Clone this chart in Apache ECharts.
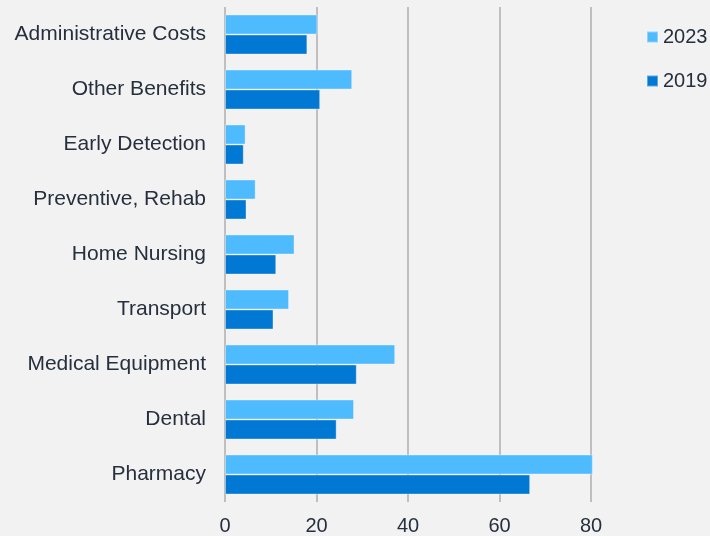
<!DOCTYPE html>
<html>
<head>
<meta charset="utf-8">
<script src="https://cdn.jsdelivr.net/npm/echarts@6/dist/echarts.min.js"></script>
<style>
  html, body { margin: 0; padding: 0; background: #f2f2f2; }
  #chart { width: 710px; height: 536px; }
</style>
</head>
<body>
<div id="chart"></div>
<script>
// Spending categories, top to bottom
const categories = [
  'Administrative Costs', 'Other Benefits', 'Early Detection',
  'Preventive, Rehab', 'Home Nursing', 'Transport',
  'Medical Equipment', 'Dental', 'Pharmacy'
];
const seriesNames = ['2023', '2019'];
const values2023 = [20.2, 27.8, 4.5, 6.7, 15.2, 14.0, 37.2, 28.2, 80.4];
const values2019 = [18.0, 20.8, 4.1, 4.7, 11.2, 10.6, 28.8, 24.4, 66.7];
const xTicks = [0, 20, 40, 60, 80];

const textColor = '#262f3d';
const font = '"Liberation Sans", Arial, sans-serif';

const chart = echarts.init(document.getElementById('chart'), null, { renderer: 'canvas' });
chart.setOption({
  backgroundColor: '#f2f2f2',
  animation: false,
  legend: {
    orient: 'vertical',
    left: 641,
    top: 22,
    itemWidth: 11,
    itemHeight: 11,
    itemGap: 24,
    icon: 'rect',
    data: seriesNames,
    textStyle: { color: textColor, fontSize: 20, fontFamily: font }
  },
  grid: { left: 225, top: 7, width: 366, height: 495, containLabel: false },
  xAxis: {
    type: 'value',
    min: xTicks[0],
    max: xTicks[xTicks.length - 1],
    interval: 20,
    axisLine: { show: false },
    axisTick: { show: false },
    axisLabel: { color: textColor, fontSize: 20, fontFamily: font, margin: 14 },
    splitLine: { show: true, lineStyle: { color: '#bfbfbf', width: 2 } }
  },
  yAxis: {
    type: 'category',
    data: categories,
    inverse: true,
    axisLine: { show: false },
    axisTick: { show: false },
    axisLabel: { color: textColor, fontSize: 21, fontFamily: font, margin: 19 }
  },
  series: [
    {
      name: seriesNames[0],
      type: 'bar',
      data: values2023,
      barWidth: 20,
      barGap: '0%',
      clip: false,
      itemStyle: { color: '#4fbbff', borderColor: 'rgba(255,255,255,0.35)', borderWidth: 1 }
    },
    {
      name: seriesNames[1],
      type: 'bar',
      data: values2019,
      barWidth: 20,
      barGap: '0%',
      clip: false,
      itemStyle: { color: '#0078d4', borderColor: 'rgba(255,255,255,0.35)', borderWidth: 1 }
    }
  ]
});
</script>
</body>
</html>
